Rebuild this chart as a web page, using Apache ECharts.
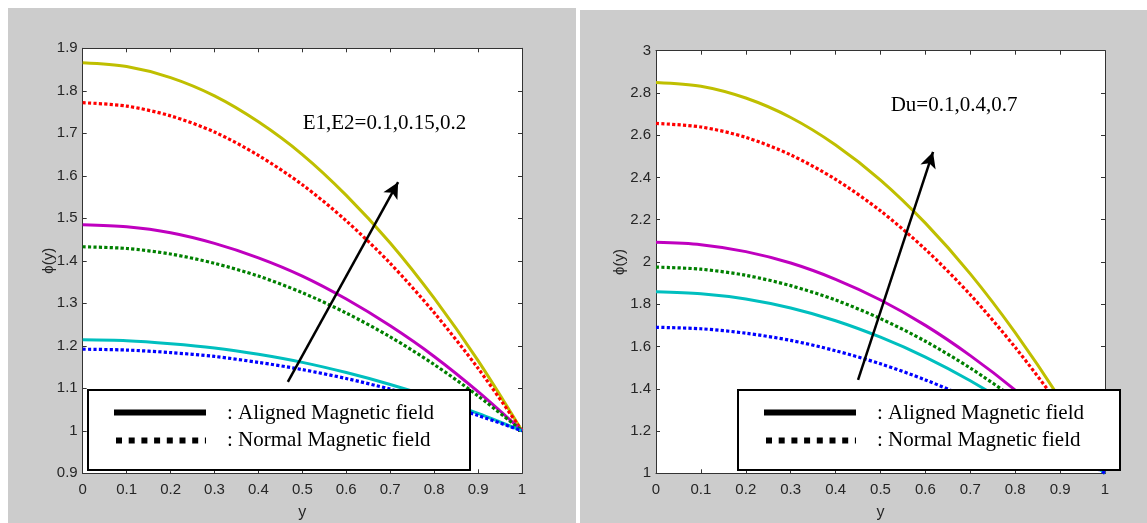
<!DOCTYPE html>
<html><head><meta charset="utf-8">
<script src="https://cdn.jsdelivr.net/npm/echarts@6.0.0/dist/echarts.min.js"></script>
<style>html,body{margin:0;padding:0;background:#fff}#c{width:1147px;height:523px}</style>
</head><body><div id="c"></div>
<script>
// ---- data ----
const xs = [0, 0.1, 0.2, 0.3, 0.4, 0.5, 0.6, 0.7, 0.8, 0.9, 1];
// left panel: E1,E2 = 0.1, 0.15, 0.2
const leftAlignedE02  = [1.866, 1.857, 1.831, 1.788, 1.727, 1.650, 1.554, 1.442, 1.312, 1.165, 1.000];
const leftNormalE02   = [1.772, 1.764, 1.741, 1.703, 1.648, 1.579, 1.494, 1.394, 1.278, 1.147, 1.000];
const leftAlignedE015 = [1.485, 1.480, 1.466, 1.441, 1.407, 1.364, 1.310, 1.247, 1.175, 1.092, 1.000];
const leftNormalE015  = [1.433, 1.429, 1.416, 1.394, 1.364, 1.325, 1.277, 1.221, 1.156, 1.082, 1.000];
const leftAlignedE01  = [1.214, 1.212, 1.205, 1.195, 1.180, 1.161, 1.137, 1.109, 1.077, 1.041, 1.000];
const leftNormalE01   = [1.192, 1.190, 1.184, 1.175, 1.161, 1.144, 1.123, 1.098, 1.069, 1.036, 1.000];
// right panel: Du = 0.1, 0.4, 0.7
const rightAlignedDu07 = [2.850, 2.832, 2.776, 2.684, 2.554, 2.388, 2.184, 1.944, 1.666, 1.352, 1.000];
const rightNormalDu07  = [2.656, 2.639, 2.590, 2.507, 2.391, 2.242, 2.060, 1.845, 1.596, 1.315, 1.000];
const rightAlignedDu04 = [2.093, 2.082, 2.049, 1.995, 1.918, 1.820, 1.700, 1.557, 1.394, 1.208, 1.000];
const rightNormalDu04  = [1.976, 1.966, 1.937, 1.888, 1.820, 1.732, 1.625, 1.498, 1.351, 1.185, 1.000];
const rightAlignedDu01 = [1.859, 1.850, 1.825, 1.782, 1.722, 1.644, 1.550, 1.438, 1.309, 1.163, 1.000];
const rightNormalDu01  = [1.691, 1.684, 1.663, 1.629, 1.580, 1.518, 1.442, 1.352, 1.249, 1.131, 1.000];
// arrows (data coordinates: [x, phi])
const leftArrow  = [[0.467, 1.115], [0.718, 1.585]];
const rightArrow = [[0.450, 1.442], [0.617, 2.521]];
// texts
const leftNote = 'E1,E2=0.1,0.15,0.2';
const rightNote = 'Du=0.1,0.4,0.7';
const legendTexts = [': Aligned Magnetic field', ': Normal Magnetic field'];
const xName = 'y';
const yName = '\u03d5(y)';

// ---- styling ----
const C = {yellow:'#bfbf00', red:'#ff0000', magenta:'#bf00bf', green:'#008000', cyan:'#00bfbf', blue:'#0000ff'};
const tickFont = {fontFamily:'"Liberation Sans Narrow","Liberation Sans",Arial,sans-serif', fontSize:15, color:'#262626'};
const serif = '"Liberation Serif","Times New Roman",serif';

function pairs(arr){ return xs.map((x,i)=>[x,arr[i]]); }

function solid(data, color, gi, extra){
  return Object.assign({type:'line', xAxisIndex:gi*2, yAxisIndex:gi*2, data:pairs(data), showSymbol:false, smooth:0.3,
    lineStyle:{color, width:3, type:'solid'}, z:3, silent:true}, extra||{});
}
function dotted(data, color, gi){
  return {type:'line', xAxisIndex:gi*2, yAxisIndex:gi*2, data:pairs(data), showSymbol:false, smooth:0.3,
    lineStyle:{color, width:3.2, type:[3.2,2.2], cap:'butt'}, z:3, silent:true};
}
function arrowLine(a){
  return {silent:true, symbol:['none','arrow'], symbolSize:[12,16], label:{show:false},
    itemStyle:{color:'#000'},
    lineStyle:{color:'#000', width:2.5, type:'solid'},
    emphasis:{disabled:true},
    data:[[{coord:a[0]},{coord:a[1]}]]};
}

function xAx(gi, pos){
  const main = pos==='bottom';
  return {gridIndex:gi, type:'value', min:0, max:1, interval:0.1, position:pos,
    axisLine:{show:true, onZero:false, lineStyle:{color:'#333', width:1}},
    axisTick:{show:true, inside:true, length:4, lineStyle:{color:'#333'}},
    axisLabel:Object.assign({show:main, margin:9}, tickFont),
    splitLine:{show:false},
    name: main ? xName : '', nameLocation:'middle', nameGap:31, nameMoveOverlap:false,
    nameTextStyle:Object.assign({}, tickFont, {fontSize:16})};
}
function yAx(gi, pos, min, max, interval, gap){
  const main = pos==='left';
  return {gridIndex:gi, type:'value', min, max, interval, position:pos,
    axisLine:{show:true, onZero:false, lineStyle:{color:'#333', width:1}},
    axisTick:{show:true, inside:true, length:4, lineStyle:{color:'#333'}},
    axisLabel:Object.assign({show:main, margin:5}, tickFont),
    splitLine:{show:false},
    name: main ? yName : '', nameLocation:'middle', nameGap:gap, nameRotate:90, nameMoveOverlap:false,
    nameTextStyle:Object.assign({}, tickFont, {fontSize:15})};
}

function legendGroup(bx){
  const lx1 = bx + 26, lx2 = bx + 118, tx = bx + 139;
  return [
    {type:'rect', z:100, shape:{x:bx, y:390, width:382, height:80}, style:{fill:'#fff', stroke:'#000', lineWidth:2}},
    {type:'line', z:101, shape:{x1:lx1, y1:412.5, x2:lx2, y2:412.5}, style:{stroke:'#000', lineWidth:6}},
    {type:'line', z:101, shape:{x1:lx1+2, y1:440.5, x2:lx2, y2:440.5}, style:{stroke:'#000', lineWidth:6, lineDash:[6,6.7]}},
    {type:'text', z:101, x:tx, y:413, style:{text:legendTexts[0], font:'21px '+serif, fill:'#000', textVerticalAlign:'middle'}},
    {type:'text', z:101, x:tx, y:440, style:{text:legendTexts[1], font:'21px '+serif, fill:'#000', textVerticalAlign:'middle'}}
  ];
}

const option = {
  animation:false,
  backgroundColor:'#ffffff',
  grid:[
    {left:82.7, top:48.3, width:439.3, height:425, show:true, backgroundColor:'#ffffff', borderWidth:0, containLabel:false, outerBoundsMode:'none'},
    {left:656, top:50.7, width:449, height:422.6, show:true, backgroundColor:'#ffffff', borderWidth:0, containLabel:false, outerBoundsMode:'none'}
  ],
  xAxis:[xAx(0,'bottom'), xAx(0,'top'), xAx(1,'bottom'), xAx(1,'top')],
  yAxis:[yAx(0,'left',0.9,1.9,0.1,26), yAx(0,'right',0.9,1.9,0.1,26), yAx(1,'left',1,3,0.2,29), yAx(1,'right',1,3,0.2,29)],
  series:[
    solid(leftAlignedE02, C.yellow, 0, {markLine:arrowLine(leftArrow)}),
    dotted(leftNormalE02, C.red, 0),
    solid(leftAlignedE015, C.magenta, 0),
    dotted(leftNormalE015, C.green, 0),
    solid(leftAlignedE01, C.cyan, 0),
    dotted(leftNormalE01, C.blue, 0),
    solid(rightAlignedDu07, C.yellow, 1, {markLine:arrowLine(rightArrow)}),
    dotted(rightNormalDu07, C.red, 1),
    solid(rightAlignedDu04, C.magenta, 1),
    dotted(rightNormalDu04, C.green, 1),
    solid(rightAlignedDu01, C.cyan, 1),
    dotted(rightNormalDu01, C.blue, 1)
  ],
  graphic:{elements:[
    {type:'rect', z:-10, silent:true, shape:{x:8, y:8, width:568, height:515}, style:{fill:'#cccccc'}},
    {type:'rect', z:-10, silent:true, shape:{x:580, y:10, width:567, height:513}, style:{fill:'#cccccc'}},
    {type:'text', z:100, x:302.7, y:123.5, style:{text:leftNote, font:'21px '+serif, fill:'#000', textVerticalAlign:'middle'}},
    {type:'text', z:100, x:890.7, y:105.5, style:{text:rightNote, font:'21px '+serif, fill:'#000', textVerticalAlign:'middle'}}
  ].concat(legendGroup(88)).concat(legendGroup(738))}
};

const chart = echarts.init(document.getElementById('c'), null, {renderer:'canvas'});
chart.setOption(option);
</script>
</body></html>
